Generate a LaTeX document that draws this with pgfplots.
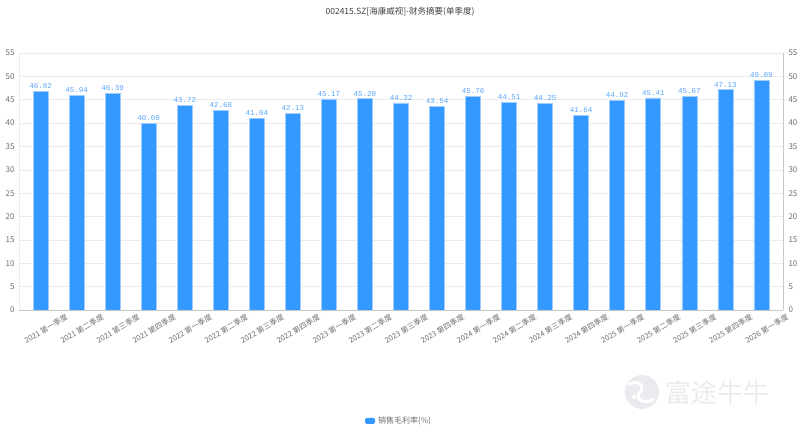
\documentclass[border=0pt]{standalone}
\usepackage{pgfplots}
\pgfplotsset{compat=1.18}
\usepackage{fontspec}
\setmainfont{Noto Sans CJK SC}
\newfontfamily\monofont{Liberation Mono}
\definecolor{barblue}{RGB}{51,153,255}
\definecolor{labblue}{RGB}{90,165,250}
\definecolor{baredge}{RGB}{160,205,255}
\definecolor{ticktext}{RGB}{110,110,110}
\definecolor{gridc}{RGB}{235,235,235}
\definecolor{axisc}{RGB}{200,200,200}
\definecolor{wm}{RGB}{233,235,238}
\pgfplotstableread{
x y
0 46.82
1 45.94
2 46.39
3 40.00
4 43.72
5 42.68
6 41.04
7 42.13
8 45.17
9 45.20
10 44.32
11 43.54
12 45.76
13 44.51
14 44.25
15 41.64
16 44.92
17 45.41
18 45.67
19 47.13
20 49.09
}\datatable
\begin{document}
\begin{tikzpicture}[x=1pt,y=1pt]
\useasboundingbox (0,0) rectangle (804,435);
% watermark
\fill[wm] (642,43) circle (17);
\draw[white, line width=3pt] (628,50) .. controls (636,56) and (646,50) .. (640,43) .. controls (634,36) and (644,30) .. (654,36);
\fill[white] (634,38) circle (2.2);
\node[anchor=west, text=wm, font=\fontsize{26}{28}\selectfont, inner sep=0pt] at (665,42) {富途牛牛};
\begin{axis}[
  at={(19pt,125pt)}, anchor=south west,
  width=764pt, height=257pt, scale only axis,
  xmin=-0.6, xmax=20.6, ymin=0, ymax=55,
  ytick={0,5,...,55},
  xtick=data,
  xticklabels={2021 第一季度,2021 第二季度,2021 第三季度,2021 第四季度,2022 第一季度,2022 第二季度,2022 第三季度,2022 第四季度,2023 第一季度,2023 第二季度,2023 第三季度,2023 第四季度,2024 第一季度,2024 第二季度,2024 第三季度,2024 第四季度,2025 第一季度,2025 第二季度,2025 第三季度,2025 第四季度,2026 第一季度},
  major tick length=0pt,
  axis x line*=bottom, axis y line*=left,
  x axis line style={draw=axisc, -},
  y axis line style={draw=gridc, -},
  ymajorgrids, grid style={draw=gridc, line width=0.6pt},
  /pgf/number format/assume math mode=true,
  yticklabel style={font=\fontsize{8}{9}\selectfont, text=ticktext, xshift=-1pt},
  xticklabel style={xshift=25pt, yshift=-2pt, rotate=30, anchor=north east, font=\fontsize{7.5}{8}\selectfont, text=ticktext, inner sep=1pt},
  ybar, bar width=15pt,
  nodes near coords,
  every node near coord/.append style={font=\monofont\fontsize{7.5}{8}\selectfont, text=labblue, /pgf/number format/fixed, /pgf/number format/fixed zerofill, /pgf/number format/precision=2, yshift=-1pt},
]
\addplot[fill=barblue, draw=baredge, line width=0.6pt] table[x=x,y=y] {\datatable};
\end{axis}
\begin{axis}[
  at={(19pt,125pt)}, anchor=south west,
  width=764pt, height=257pt, scale only axis,
  xmin=-0.6, xmax=20.6, ymin=0, ymax=55,
  ytick={0,5,...,55},
  axis x line=none, axis y line*=right,
  y axis line style={draw=axisc, line width=0.8pt, -},
  major tick length=0pt,
  /pgf/number format/assume math mode=true,
  yticklabel style={font=\fontsize{8}{9}\selectfont, text=ticktext, xshift=2pt},
]
\addplot[draw=none] coordinates {(0,0)};
\end{axis}
\node[font=\fontsize{8.5}{10}\selectfont, text=black!75] at (400,423) {002415.SZ[海康威视]-财务摘要(单季度)};
\fill[barblue, rounded corners=1.5pt] (365,11) rectangle (375,17);
\node[anchor=west, font=\fontsize{8}{9}\selectfont, text=ticktext, inner sep=0pt] at (378,14) {销售毛利率(\%)};
\end{tikzpicture}
\end{document}
